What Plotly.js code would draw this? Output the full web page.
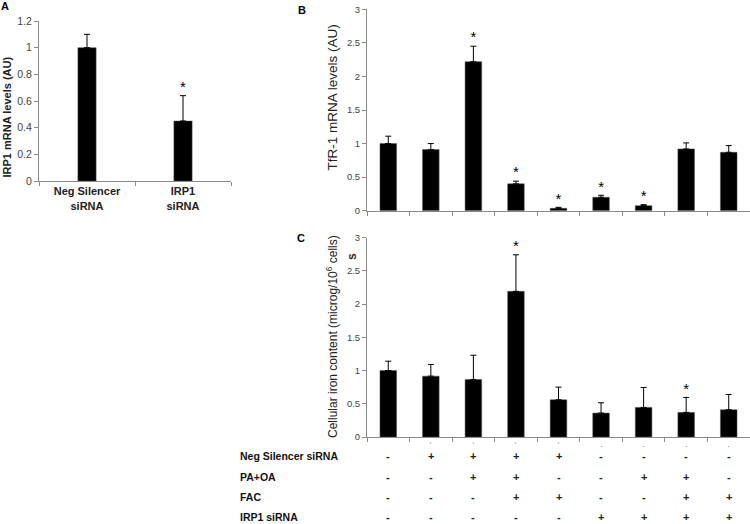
<!DOCTYPE html>
<html>
<head>
<meta charset="utf-8">
<script src="https://cdn.plot.ly/plotly-3.0.1.min.js"></script>
<style>
  html, body { margin: 0; padding: 0; background: #fff; }
  #chart { width: 750px; height: 524px; }
</style>
</head>
<body>
<div id="chart"></div>
<script>
// ---------- DATA ----------
const aCategories = ["Neg Silencer<br>siRNA", "IRP1<br>siRNA"];
const aValues = [1.0, 0.45];
const aErrors = [0.10, 0.19];
const aStars = [false, true];

const conditions = ["G1", "G2", "G3", "G4", "G5", "G6", "G7", "G8", "G9"];
const bValues = [1.0, 0.91, 2.22, 0.40, 0.035, 0.20, 0.075, 0.92, 0.87];
const bErrors = [0.11, 0.09, 0.23, 0.04, 0.015, 0.03, 0.015, 0.09, 0.10];
const bStars = [false, false, true, true, true, true, true, false, false];

const cValues = [1.0, 0.915, 0.865, 2.19, 0.56, 0.36, 0.445, 0.37, 0.41];
const cErrors = [0.14, 0.175, 0.365, 0.55, 0.19, 0.155, 0.30, 0.225, 0.23];
const cStars = [false, false, false, true, false, false, false, true, false];

const tableRowLabels = ["Neg Silencer siRNA", "PA+OA", "FAC", "IRP1 siRNA"];
const negSilencerRow = ["-", "+", "+", "+", "+", "-", "-", "-", "-"];
const paOaRow        = ["-", "-", "+", "+", "-", "-", "+", "+", "-"];
const facRow         = ["-", "-", "-", "+", "+", "-", "-", "+", "+"];
const irp1Row        = ["-", "-", "-", "-", "-", "+", "+", "+", "+"];
const tableRows = [negSilencerRow, paOaRow, facRow, irp1Row];
const smallMarks = ["", "ˋ", "ˋ", "ˋ", "ˋ", "·", "·", "·", "·"];

// ---------- STYLE ----------
const W = 750, H = 524;
const px = x => x / W;
const py = y => (H - y) / H;
const FONT = "Liberation Sans, Arial, sans-serif";
const AXIS_GREY = "#8a8a8a";
const TICK_FONT_A = {family: FONT, size: 10.5, color: "#444"};
const TICK_FONT_BC = {family: FONT, size: 9.5, color: "#444"};

function barTrace(x, y, err, xa, ya, width) {
  return {
    type: "bar", x: x, y: y, xaxis: xa, yaxis: ya, width: width,
    marker: {color: "#000", line: {color: "#555", width: 0.5}},
    error_y: {type: "data", array: err, arrayminus: err.map(() => 0), symmetric: false,
              color: "#000", thickness: 1, width: 3},
    hoverinfo: "skip", showlegend: false
  };
}
function starTrace(x, y, err, flags, xa, ya) {
  const xs = [], ys = [];
  flags.forEach((f, i) => { if (f) { xs.push(x[i]); ys.push(y[i] + err[i]); } });
  return {
    type: "scatter", mode: "text", x: xs, y: ys, xaxis: xa, yaxis: ya,
    text: xs.map(() => "*"), textposition: "top center",
    textfont: {family: FONT, size: 15, color: "#000"},
    hoverinfo: "skip", showlegend: false, cliponaxis: false
  };
}

const traces = [
  barTrace(aCategories, aValues, aErrors, "x", "y", 0.19),
  starTrace(aCategories, aValues, aErrors, aStars, "x", "y"),
  barTrace(conditions, bValues, bErrors, "x2", "y2", 0.39),
  starTrace(conditions, bValues, bErrors, bStars, "x2", "y2"),
  barTrace(conditions, cValues, cErrors, "x3", "y3", 0.39),
  starTrace(conditions, cValues, cErrors, cStars, "x3", "y3")
];

function xAxis(domain, anchor, range, showLabels, font) {
  return {
    domain: domain, anchor: anchor, type: "category", range: range,
    showline: true, linecolor: AXIS_GREY, linewidth: 1,
    ticks: "outside", tickson: "boundaries", ticklen: 4, tickcolor: AXIS_GREY,
    showgrid: false, zeroline: false, showticklabels: showLabels,
    tickfont: font, fixedrange: true
  };
}
function yAxis(domain, anchor, range, dtick, font) {
  return {
    domain: domain, anchor: anchor, range: range, dtick: dtick,
    showline: true, linecolor: AXIS_GREY, linewidth: 1,
    ticks: "outside", ticklen: 4, tickcolor: AXIS_GREY,
    showgrid: false, zeroline: false, tickfont: font, fixedrange: true
  };
}

const annotations = [];
function label(text, x, y, opts) {
  annotations.push(Object.assign({
    text: text, x: x, y: y, xref: "paper", yref: "paper", showarrow: false,
    xanchor: "center", yanchor: "middle",
    font: {family: FONT, size: 10, color: "#000"}
  }, opts || {}));
}
// panel letters
label("<b>A</b>", px(5), py(6), {font: {family: FONT, size: 11, color: "#000"}});
label("<b>B</b>", px(302), py(9.5), {font: {family: FONT, size: 11, color: "#000"}});
label("<b>C</b>", px(301), py(237.5), {font: {family: FONT, size: 11, color: "#000"}});
// y-axis titles
label("<b>IRP1 mRNA levels (AU)</b>", px(6), py(117.5), {textangle: -90, font: {family: FONT, size: 11, color: "#222"}});
label("TfR-1 mRNA levels (AU)", px(332), py(97.5), {textangle: -90, font: {family: FONT, size: 13.5, color: "#222"}});
label("Cellular iron content (microg/10<sup>6</sup> cells)", px(332), py(337), {textangle: -90, font: {family: FONT, size: 12, color: "#222"}});
label("<b>s</b>", px(352), py(257), {textangle: -90, font: {family: FONT, size: 12, color: "#333"}});

// table
const rowY = [456, 476.5, 497, 516.5];
tableRowLabels.forEach((t, r) => {
  label("<b>" + t + "</b>", px(238), py(rowY[r]), {xanchor: "left", font: {family: FONT, size: 10.5, color: "#111"}});
  tableRows[r].forEach((v, i) => {
    annotations.push({
      text: "<b>" + v + "</b>", x: i, y: py(rowY[r]), xref: "x3", yref: "paper",
      xanchor: "center", yanchor: "middle",
      showarrow: false, font: {family: FONT, size: 11, color: "#222"}
    });
  });
});
smallMarks.forEach((m, i) => {
  if (m) annotations.push({
    text: m, x: i, y: py(446), xref: "x3", yref: "paper",
    xanchor: "center", yanchor: "middle",
    showarrow: false, font: {family: FONT, size: 9, color: "#777"}
  });
});

const layout = {
  width: W, height: H,
  margin: {l: 0, r: 0, t: 0, b: 0},
  paper_bgcolor: "#fff", plot_bgcolor: "rgba(0,0,0,0)",
  showlegend: false,
  font: {family: FONT},
  xaxis: xAxis([px(39), px(231)], "y", [-0.5, 1.5], true, {family: FONT, size: 11, color: "#222", weight: "bold"}),
  yaxis: yAxis([py(181), py(21)], "x", [0, 1.2], 0.2, TICK_FONT_A),
  xaxis2: xAxis([px(367), px(750)], "y2", [-0.5, 8.5], false, TICK_FONT_BC),
  yaxis2: yAxis([py(210.7), py(9.3)], "x2", [0, 3], 0.5, TICK_FONT_BC),
  xaxis3: xAxis([px(367), px(750)], "y3", [-0.5, 8.5], false, TICK_FONT_BC),
  yaxis3: yAxis([py(437), py(237.5)], "x3", [0, 3], 0.5, TICK_FONT_BC),
  annotations: annotations
};

Plotly.newPlot("chart", traces, layout, {staticPlot: true, displayModeBar: false});
</script>
</body>
</html>
